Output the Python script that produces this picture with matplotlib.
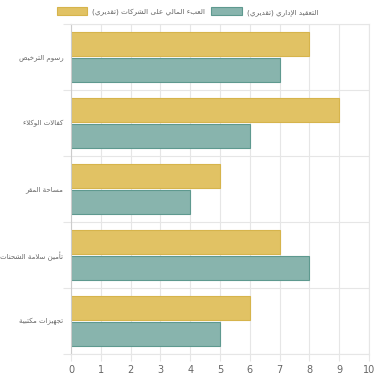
import matplotlib
matplotlib.use("Agg")
import matplotlib.pyplot as plt
from matplotlib.patches import Rectangle

categories = ["رسوم الترخيص", "كفالات الوكلاء", "مساحة المقر", "تأمين سلامة الشحنات", "تجهيزات مكتبية"]
burden = [8, 9, 5, 7, 6]
complexity = [7, 6, 4, 8, 5]
series_names = ["العبء المالي على الشركات (تقديري)", "التعقيد الإداري (تقديري)"]
xticks = [0, 1, 2, 3, 4, 5, 6, 7, 8, 9, 10]

# --- minimal Arabic shaping (presentation forms) + visual reordering ---
FORMS = {  # iso, fin, ini, med
    'ء': (0xFE80, None, None, None),
    'آ': (0xFE81, 0xFE82, None, None),
    'أ': (0xFE83, 0xFE84, None, None),
    'ؤ': (0xFE85, 0xFE86, None, None),
    'إ': (0xFE87, 0xFE88, None, None),
    'ئ': (0xFE89, 0xFE8A, 0xFE8B, 0xFE8C),
    'ا': (0xFE8D, 0xFE8E, None, None),
    'ب': (0xFE8F, 0xFE90, 0xFE91, 0xFE92),
    'ة': (0xFE93, 0xFE94, None, None),
    'ت': (0xFE95, 0xFE96, 0xFE97, 0xFE98),
    'ث': (0xFE99, 0xFE9A, 0xFE9B, 0xFE9C),
    'ج': (0xFE9D, 0xFE9E, 0xFE9F, 0xFEA0),
    'ح': (0xFEA1, 0xFEA2, 0xFEA3, 0xFEA4),
    'خ': (0xFEA5, 0xFEA6, 0xFEA7, 0xFEA8),
    'د': (0xFEA9, 0xFEAA, None, None),
    'ذ': (0xFEAB, 0xFEAC, None, None),
    'ر': (0xFEAD, 0xFEAE, None, None),
    'ز': (0xFEAF, 0xFEB0, None, None),
    'س': (0xFEB1, 0xFEB2, 0xFEB3, 0xFEB4),
    'ش': (0xFEB5, 0xFEB6, 0xFEB7, 0xFEB8),
    'ص': (0xFEB9, 0xFEBA, 0xFEBB, 0xFEBC),
    'ض': (0xFEBD, 0xFEBE, 0xFEBF, 0xFEC0),
    'ط': (0xFEC1, 0xFEC2, 0xFEC3, 0xFEC4),
    'ظ': (0xFEC5, 0xFEC6, 0xFEC7, 0xFEC8),
    'ع': (0xFEC9, 0xFECA, 0xFECB, 0xFECC),
    'غ': (0xFECD, 0xFECE, 0xFECF, 0xFED0),
    'ف': (0xFED1, 0xFED2, 0xFED3, 0xFED4),
    'ق': (0xFED5, 0xFED6, 0xFED7, 0xFED8),
    'ك': (0xFED9, 0xFEDA, 0xFEDB, 0xFEDC),
    'ل': (0xFEDD, 0xFEDE, 0xFEDF, 0xFEE0),
    'م': (0xFEE1, 0xFEE2, 0xFEE3, 0xFEE4),
    'ن': (0xFEE5, 0xFEE6, 0xFEE7, 0xFEE8),
    'ه': (0xFEE9, 0xFEEA, 0xFEEB, 0xFEEC),
    'و': (0xFEED, 0xFEEE, None, None),
    'ى': (0xFEEF, 0xFEF0, 0xFBE8, 0xFBE9),
    'ي': (0xFEF1, 0xFEF2, 0xFEF3, 0xFEF4),
}
LAMALEF = {'آ': (0xFEF5, 0xFEF6), 'أ': (0xFEF7, 0xFEF8), 'إ': (0xFEF9, 0xFEFA), 'ا': (0xFEFB, 0xFEFC)}


def dual(c):
    return c in FORMS and FORMS[c][2] is not None


def joins(c):
    return c in FORMS and FORMS[c][1] is not None


def shape(text):
    units = []
    i = 0
    while i < len(text):
        c = text[i]
        if c == 'ل' and i + 1 < len(text) and text[i + 1] in LAMALEF:
            units.append(('LA', text[i + 1]))
            i += 2
        else:
            units.append(('C', c))
            i += 1
    out = []
    for k, (kind, c) in enumerate(units):
        prev = units[k - 1] if k > 0 else None
        nxt = units[k + 1] if k + 1 < len(units) else None
        prev_ok = prev is not None and prev[0] == 'C' and dual(prev[1])
        if kind == 'LA':
            out.append(chr(LAMALEF[c][1] if prev_ok else LAMALEF[c][0]))
            continue
        if c not in FORMS:
            out.append(c)
            continue
        p = prev_ok and joins(c)
        n = dual(c) and nxt is not None and (nxt[0] == 'LA' or joins(nxt[1]))
        iso, fin, ini, med = FORMS[c]
        if p and n:
            out.append(chr(med))
        elif p:
            out.append(chr(fin))
        elif n:
            out.append(chr(ini))
        else:
            out.append(chr(iso))
    s = ''.join(out)[::-1]
    return s.translate(str.maketrans('()', ')('))


TXT = '#666666'
GRID = '#e6e6e6'
YEL_F, YEL_E = '#e1c264', '#d6b44c'
TEAL_F, TEAL_E = '#88b4ad', '#5e998f'
FS = 7
AFS = 5.0

fig = plt.figure(figsize=(3.75, 3.75), dpi=100)
ax = fig.add_axes([71 / 375, 1 - 354 / 375, 298 / 375, 330 / 375])

n = len(categories)
pos = list(range(n))
bh = 0.36
off = 0.2
ax.barh([p - off for p in pos], burden, height=bh, color=YEL_F, edgecolor=YEL_E, linewidth=0.8, zorder=2)
ax.barh([p + off for p in pos], complexity, height=bh, color=TEAL_F, edgecolor=TEAL_E, linewidth=0.8, zorder=2)

ax.set_xlim(0, 10)
ax.set_ylim(n - 0.5, -0.5)
ax.set_xticks(xticks)
ax.set_xticklabels([str(v) for v in xticks], fontsize=FS, color=TXT)
ax.set_yticks(pos)
ax.set_yticklabels([shape(c) for c in categories], fontsize=AFS, color=TXT, family='DejaVu Sans')
ax.set_yticks([p - 0.5 for p in range(n + 1)], minor=True)
ax.tick_params(axis='y', which='major', length=0, pad=5.5)
ax.tick_params(axis='y', which='minor', length=6, color=GRID, width=0.8)
ax.tick_params(axis='x', length=5, color=GRID, width=0.8, pad=3)
ax.grid(axis='x', color=GRID, linewidth=0.8, zorder=0)
ax.grid(axis='y', which='minor', color=GRID, linewidth=0.8, zorder=0)
ax.set_axisbelow(True)
for s in ['top', 'right', 'bottom']:
    ax.spines[s].set_color(GRID)
    ax.spines[s].set_linewidth(0.8)
ax.spines['left'].set_color('#cccccc')
ax.spines['left'].set_linewidth(0.8)

# legend
handles = [Rectangle((0, 0), 1, 1, facecolor=YEL_F, edgecolor=YEL_E, linewidth=0.8),
           Rectangle((0, 0), 1, 1, facecolor=TEAL_F, edgecolor=TEAL_E, linewidth=0.8)]
leg = fig.legend(handles, [shape(s) for s in series_names], loc='center', bbox_to_anchor=(0.5, 1 - 11.5 / 375),
                 ncol=2, frameon=False, prop={'family': 'DejaVu Sans', 'size': AFS + 0.2},
                 handlelength=4.2, handleheight=1.25, handletextpad=0.7,
                 columnspacing=0.85, borderaxespad=0, borderpad=0)
for t in leg.get_texts():
    t.set_color(TXT)

fig.savefig('out.png', dpi=100)
